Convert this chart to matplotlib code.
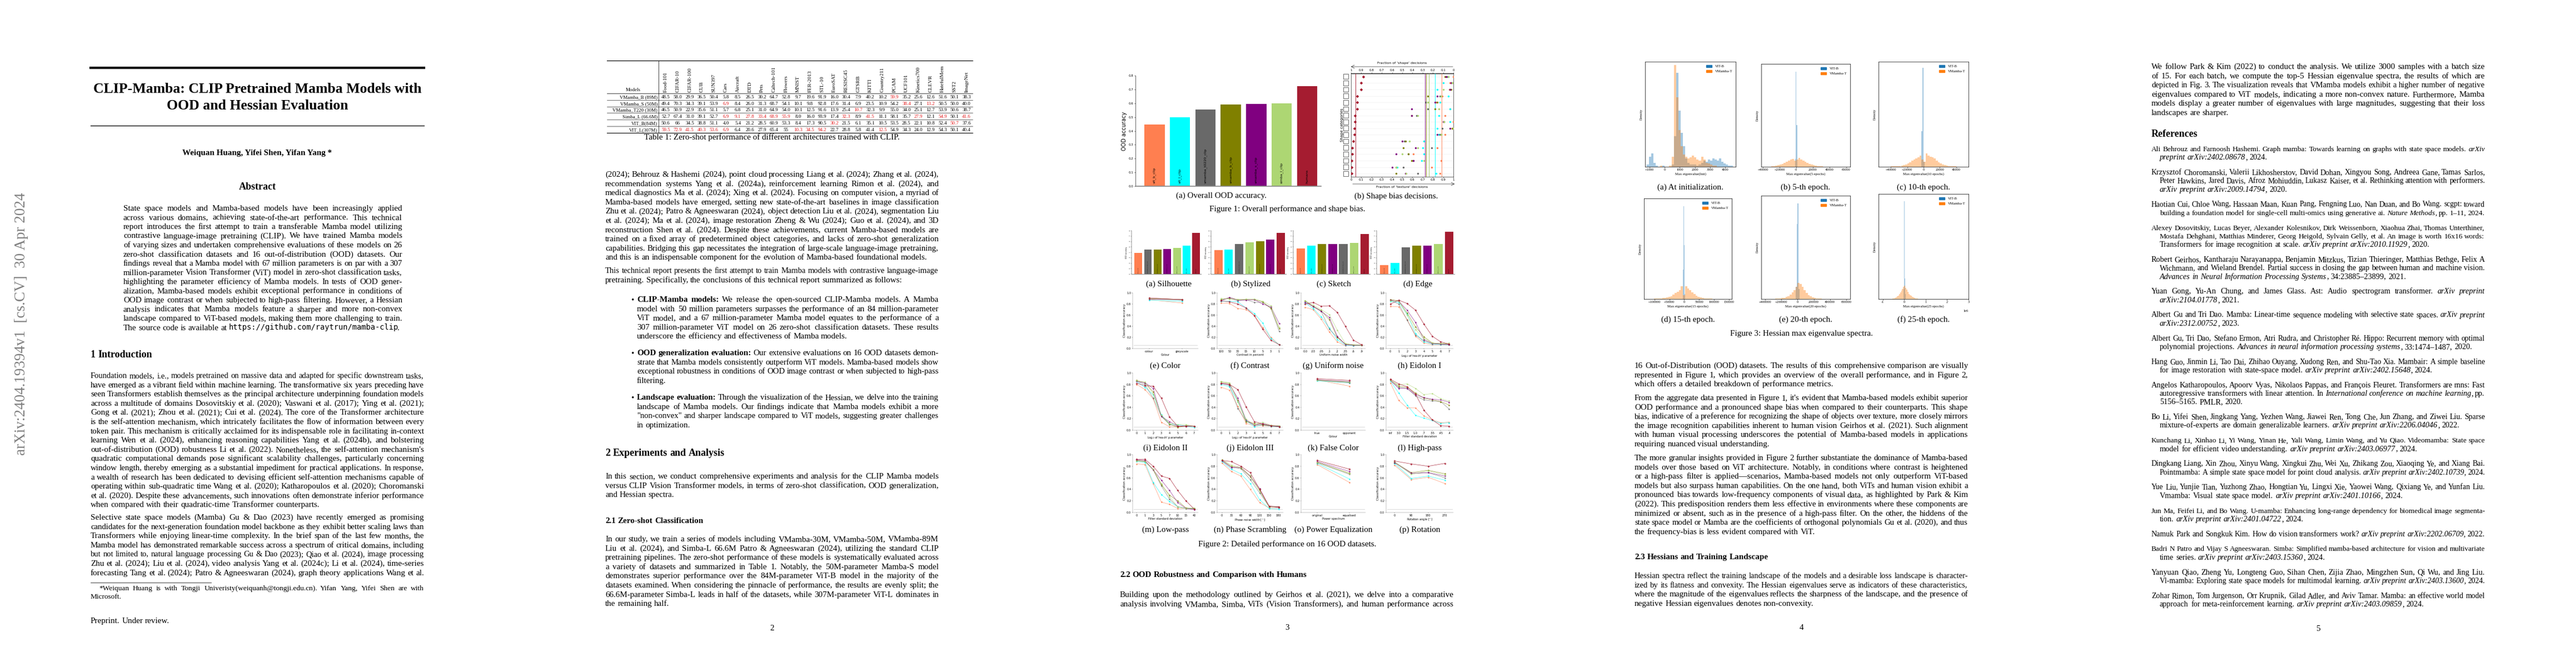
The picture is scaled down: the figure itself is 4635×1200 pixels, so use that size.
import numpy as np
import matplotlib
matplotlib.use("Agg")
import matplotlib.pyplot as plt
from matplotlib.font_manager import FontProperties
from matplotlib.textpath import text_to_path
from matplotlib.patches import Patch, Rectangle

W, H = 4635, 1200
SERIF = "Liberation Serif"
BODY = 10.9

# ---------------- data ----------------
MODELS = ["vit_b", "vit_l", "vmamba_t0220", "vmamba_b", "vmamba_s", "simba_l", "humans"]
COLORS = {"vit_b": "#FF7F50", "vit_l": "#00FFFF", "vmamba_t0220": "#696969",
          "vmamba_b": "#808000", "vmamba_s": "#800080", "simba_l": "#ADD673",
          "humans": "#A51C30"}
BAR_LABELS = {"vit_b": "vit_b_clip", "vit_l": "vit_l_clip", "vmamba_t0220": "vmamba_t0220_clip",
              "vmamba_b": "vmamba_b_clip", "vmamba_s": "vmamba_s_clip",
              "simba_l": "simba_l_clip", "humans": "humans"}

OOD_ACC = [0.445, 0.497, 0.556, 0.590, 0.594, 0.600, 0.724]

SHAPE_TEXTURE = {
    "vit_b": [1.0, .97, .96, .89, .83, .97, .92, 1.0, .99, .92, .71, .84, .61, .88, .79, .87],
    "vit_l": [.95, .90, .84, .95, .87, .97, .86, .97, .84, .86, .71, .70, .71, .69, .45, .83],
    "vmamba_t0220": [.94, .98, .97, .87, .73, .75, .64, .91, .89, .87, .52, .79, .56, .61, .51, .65],
    "vmamba_b": [.92, .99, .98, .75, .84, .82, .59, .91, .99, .88, .53, .51, .56, .59, .44, .44],
    "vmamba_s": [.93, .98, .97, .84, .82, .59, .59, .90, .97, .84, .50, .63, .44, .61, .40, .53],
    "simba_l": [.95, .99, .90, .88, .75, .86, .65, .91, 1.0, .88, .57, .65, .50, .71, .44, .54],
    "humans": [.12, .10, .10, .06, .06, .06, .04, .04, .03, .03, .02, .01, .01, .005, .005, .005],
}

BAR_PANELS = [
    ("(a) Silhouette", ["vit_b", "vmamba_t0220", "vmamba_b", "vmamba_s", "simba_l", "vit_l", "humans"],
     [0.391, 0.449, 0.456, 0.463, 0.483, 0.528, 0.756]),
    ("(b) Stylized", ["vit_b", "vit_l", "vmamba_t0220", "simba_l", "vmamba_b", "vmamba_s", "humans"],
     [0.443, 0.453, 0.551, 0.582, 0.603, 0.637, 0.756]),
    ("(c) Sketch", ["vit_b", "vit_l", "vmamba_b", "vmamba_s", "vmamba_t0220", "simba_l", "humans"],
     [0.470, 0.524, 0.551, 0.551, 0.551, 0.579, 0.735]),
    ("(d) Edge", ["vit_b", "vit_l", "vmamba_t0220", "vmamba_b", "vmamba_s", "simba_l", "humans"],
     [0.160, 0.204, 0.497, 0.521, 0.528, 0.555, 0.776]),
]

LINE_PANELS = [
    ("(e) Color", ["colour", "greyscale"], "Colour", {
        "vit_b": [.88, .82], "vit_l": [.87, .85], "vmamba_t0220": [.89, .87], "vmamba_b": [.90, .88],
        "vmamba_s": [.89, .88], "simba_l": [.90, .88], "humans": [.91, .88]}),
    ("(f) Contrast", ["100", "50", "30", "15", "10", "5", "3", "1"], "Contrast in percent", {
        "vit_b": [.82, .81, .72, .70, .60, .38, .20, .07],
        "vit_l": [.85, .85, .84, .73, .63, .46, .18, .07],
        "vmamba_t0220": [.88, .90, .86, .88, .83, .83, .73, .31],
        "vmamba_b": [.88, .91, .88, .88, .88, .84, .72, .36],
        "vmamba_s": [.86, .92, .87, .87, .88, .80, .75, .45],
        "simba_l": [.90, .89, .88, .89, .89, .85, .77, .38],
        "humans": [.86, .84, .80, .73, .59, .35, .15, .07]}),
    ("(g) Uniform noise", ["0.0", ".03", ".05", ".1", ".2", ".35", ".6", ".9"], "Uniform noise width", {
        "vit_b": [.74, .70, .53, .30, .12, .05, .06, .06],
        "vit_l": [.82, .72, .57, .37, .16, .06, .05, .06],
        "vmamba_t0220": [.85, .75, .67, .35, .20, .08, .06, .06],
        "vmamba_b": [.86, .76, .68, .52, .20, .08, .06, .06],
        "vmamba_s": [.83, .76, .67, .56, .22, .07, .06, .06],
        "simba_l": [.86, .78, .70, .61, .33, .09, .07, .06],
        "humans": [.80, .83, .76, .77, .65, .40, .15, .07]}),
    ("(h) Eidolon I", ["0", "1", "2", "3", "4", "5", "6", "7"], "Log$_2$ of 'reach' parameter", {
        "vit_b": [.76, .75, .52, .22, .10, .07, .07, .07],
        "vit_l": [.85, .83, .62, .27, .12, .08, .07, .07],
        "vmamba_t0220": [.87, .80, .51, .24, .14, .09, .08, .07],
        "vmamba_b": [.88, .86, .64, .39, .21, .10, .09, .08],
        "vmamba_s": [.87, .85, .69, .47, .16, .09, .08, .07],
        "simba_l": [.86, .85, .60, .34, .18, .10, .09, .10],
        "humans": [.80, .87, .81, .69, .44, .22, .12, .08]}),
    ("(i) Eidolon II", ["0", "1", "2", "3", "4", "5", "6", "7"], "Log$_2$ of 'reach' parameter", {
        "vit_b": [.80, .71, .55, .14, .06, .06, .07, .07],
        "vit_l": [.85, .75, .62, .27, .11, .10, .07, .05],
        "vmamba_t0220": [.86, .80, .56, .24, .10, .07, .08, .07],
        "vmamba_b": [.87, .83, .67, .25, .11, .05, .08, .07],
        "vmamba_s": [.85, .83, .73, .24, .15, .07, .07, .07],
        "simba_l": [.86, .84, .63, .26, .12, .10, .10, .07],
        "humans": [.82, .78, .77, .56, .23, .07, .07, .07]}),
    ("(j) Eidolon III", ["0", "1", "2", "3", "4", "5", "6", "7"], "Log$_2$ of 'reach' parameter", {
        "vit_b": [.75, .70, .42, .12, .08, .08, .07, .06],
        "vit_l": [.80, .76, .50, .17, .06, .10, .07, .06],
        "vmamba_t0220": [.82, .78, .38, .16, .09, .09, .07, .07],
        "vmamba_b": [.84, .82, .52, .15, .12, .10, .08, .07],
        "vmamba_s": [.82, .80, .56, .18, .09, .12, .08, .07],
        "simba_l": [.85, .83, .50, .19, .10, .14, .09, .08],
        "humans": [.82, .80, .71, .41, .15, .11, .08, .06]}),
    ("(k) False Color", ["true", "opponent"], "Colour", {
        "vit_b": [.88, .77], "vit_l": [.86, .83], "vmamba_t0220": [.87, .83], "vmamba_b": [.88, .84],
        "vmamba_s": [.88, .85], "simba_l": [.87, .84], "humans": [.90, .87]}),
    ("(l) High-pass", ["inf", "3.0", "1.5", "1.0", ".7", ".55", ".45", ".4"], "Filter standard deviation", {
        "vit_b": [.83, .52, .39, .39, .25, .18, .13, .14],
        "vit_l": [.86, .65, .44, .26, .21, .17, .12, .13],
        "vmamba_t0220": [.87, .75, .73, .60, .53, .51, .50, .37],
        "vmamba_b": [.88, .77, .75, .65, .56, .53, .50, .44],
        "vmamba_s": [.87, .73, .73, .62, .57, .54, .53, .49],
        "simba_l": [.87, .79, .81, .73, .62, .64, .55, .51],
        "humans": [.89, .81, .76, .63, .35, .18, .08, .07]}),
    ("(m) Low-pass", ["0", "1", "3", "5", "7", "10", "15", "40"], "Filter standard deviation", {
        "vit_b": [.84, .83, .50, .18, .14, .07, .07, .06],
        "vit_l": [.88, .87, .52, .31, .19, .10, .07, .07],
        "vmamba_t0220": [.89, .88, .74, .46, .23, .10, .07, .06],
        "vmamba_b": [.90, .89, .74, .48, .30, .20, .08, .07],
        "vmamba_s": [.91, .90, .74, .56, .38, .17, .07, .05],
        "simba_l": [.89, .88, .75, .50, .27, .10, .07, .08],
        "humans": [.92, .92, .80, .63, .59, .38, .20, .06]}),
    ("(n) Phase Scrambling", ["0", "30", "60", "90", "120", "150", "180"], "Phase noise width [$^\\circ$]", {
        "vit_b": [.86, .71, .63, .40, .17, .08, .08],
        "vit_l": [.88, .75, .67, .50, .22, .07, .06],
        "vmamba_t0220": [.89, .78, .76, .57, .34, .10, .09],
        "vmamba_b": [.91, .80, .77, .62, .38, .10, .10],
        "vmamba_s": [.90, .78, .78, .63, .41, .11, .09],
        "simba_l": [.91, .82, .78, .64, .37, .10, .10],
        "humans": [.90, .88, .80, .69, .40, .11, .10]}),
    ("(o) Power Equalization", ["original", "equalised"], "Power spectrum", {
        "vit_b": [.83, .52], "vit_l": [.85, .58], "vmamba_t0220": [.86, .66], "vmamba_b": [.87, .68],
        "vmamba_s": [.88, .71], "simba_l": [.87, .67], "humans": [.90, .75]}),
    ("(p) Rotation", ["0", "90", "180", "270"], "Rotation angle [$^\\circ$]", {
        "vit_b": [.82, .57, .61, .50], "vit_l": [.85, .59, .63, .56],
        "vmamba_t0220": [.86, .67, .69, .60], "vmamba_b": [.87, .69, .73, .67],
        "vmamba_s": [.87, .68, .69, .63], "simba_l": [.88, .66, .72, .65],
        "humans": [.89, .84, .80, .85]}),
]

TABLE_COLS = ["Food-101", "CIFAR-10", "CIFAR-100", "CUB", "SUN397", "Cars", "Aircraft", "DTD", "Pets",
              "Caltech-101", "Flowers", "MNIST", "FER-2013", "STL-10", "EuroSAT", "RESISC45", "GTSRB",
              "KITTI", "Country211", "PCAM", "UCF101", "Kinetics700", "CLEVR", "HatefulMem", "SST2",
              "ImageNet"]
TABLE_ROWS = ["VMamba_B (89M)", "VMamba_S (50M)", "VMamba_T220 (30M)", "Simba_L (66.6M)",
              "VIT_B(84M)", "VIT_L(307M)"]
TABLE_VALUES = [
    "48.5 58.0 29.9 36.5 50.4 5.8 8.5 26.5 30.2 64.7 52.8 9.7 19.6 91.9 16.0 30.4 7.9 40.2 10.2 59.9 35.2 25.6 12.6 51.6 50.1 38.3",
    "49.4 70.3 34.3 39.1 53.9 6.9 8.4 26.0 31.3 68.7 54.1 10.1 9.8 92.8 17.6 31.4 6.9 23.5 10.9 54.2 38.4 27.1 13.2 50.5 50.0 40.0",
    "46.5 50.9 22.9 35.6 51.1 5.7 6.8 25.1 31.0 64.9 54.0 10.1 12.5 91.6 13.9 25.4 10.7 32.3 9.9 55.0 34.0 25.1 12.7 53.9 50.6 38.7",
    "52.7 67.4 31.0 39.1 52.7 6.9 9.1 27.8 33.4 68.9 55.9 8.0 16.0 93.9 17.4 32.3 8.9 41.5 11.1 58.1 35.7 27.9 12.1 54.9 50.1 41.6",
    "50.6 66 34.5 38.8 51.1 4.0 5.4 21.2 28.5 60.9 53.3 8.4 17.3 90.5 30.2 21.5 6.1 35.1 10.5 53.5 28.5 22.1 10.8 52.4 50.7 37.6",
    "59.5 72.9 41.5 40.3 53.6 6.9 6.4 20.6 27.9 65.4 55 10.3 34.5 94.2 22.7 28.8 5.8 41.4 12.5 54.9 34.3 24.0 12.9 54.3 50.1 40.4",
]
TABLE_RED = {(0, 19), (1, 5), (1, 20), (1, 22), (2, 16), (3, 5), (3, 6), (3, 7), (3, 8), (3, 9),
             (3, 10), (3, 15), (3, 17), (3, 21), (3, 23), (3, 25), (4, 14), (4, 24),
             (5, 0), (5, 1), (5, 2), (5, 3), (5, 4), (5, 5), (5, 11), (5, 12), (5, 13), (5, 18)}

# Hessian histograms: (edges start, bin width, heights) per series
HIST_PANELS = [
    ("(a) At initialization.", "Max eigenvalue(Init)", (-1300, 4700), [-1000, 0, 1000, 2000, 3000, 4000],
     (-1200, 150, [0.02, 0.10, 0.13, 0.04, 0.01, 0, 0, 0.01, 0, 0, 0, 0.02, 0.30, 0.92, 0.55, 0.33, 0.20,
                   0.08, 0.04, 0.02, 0.02, 0.02, 0.01, 0.02, 0.04, 0.06, 0.05, 0.07, 0.06, 0.08, 0.07,
                   0.06, 0.08, 0.05, 0.03, 0.02, 0.01, 0.01]),
     (-1200, 150, [0, 0, 0, 0, 0, 0, 0.01, 0, 0, 0, 0.01, 0.10, 1.0, 0.68, 0.36, 0.20, 0.12, 0.10, 0.08,
                   0.09, 0.11, 0.09, 0.07, 0.06, 0.10, 0.07, 0.04, 0.03, 0.02, 0.01, 0.01, 0, 0, 0, 0,
                   0, 0, 0])),
    ("(b) 5-th epoch.", "Max eigenvalue(5 epochs)", (-42000, 65000), [-40000, -20000, 0, 20000, 40000, 60000],
     (-1200, 800, [0.08, 0.95, 0.42]),
     (-40000, 2500, [0, 0, 0, 0.002, 0.004, 0.006, 0.01, 0.015, 0.02, 0.03, 0.04, 0.05, 0.06, 0.07,
                     0.08, 0.06, 0.07, 0.09, 0.075, 0.06, 0.05, 0.04, 0.03, 0.02, 0.015, 0.01, 0.006,
                     0.004, 0.003, 0.002, 0.001, 0.001, 0.001, 0.001, 0.001, 0.001, 0, 0, 0, 0, 0, 0])),
    ("(c) 10-th epoch.", "Max eigenvalue(10 epochs)", (-55000, 55000), [-40000, -20000, 0, 20000, 40000],
     (-2400, 1200, [0.35, 0.97, 0.05]),
     (-50000, 2500, [0.001, 0.001, 0.002, 0.002, 0.003, 0.004, 0.005, 0.006, 0.008, 0.01, 0.015, 0.02,
                     0.03, 0.045, 0.06, 0.07, 0.08, 0.09, 0.11, 0.07, 0.05, 0.13, 0.11, 0.10, 0.09,
                     0.08, 0.06, 0.045, 0.03, 0.02, 0.015, 0.01, 0.008, 0.006, 0.004, 0.003, 0.002,
                     0.002, 0.001, 0.001])),
    ("(d) 15-th epoch.", "Max eigenvalue(15 epochs)", (-135000, 160000),
     [-100000, -50000, 0, 50000, 100000, 150000],
     (-4000, 2000, [0.3, 0.95, 0.55, 0.05]),
     (-130000, 7000, [0.001, 0.001, 0.002, 0.002, 0.003, 0.004, 0.005, 0.007, 0.009, 0.012, 0.016,
                      0.022, 0.03, 0.045, 0.06, 0.075, 0.09, 0.13, 0.04, 0.13, 0.11, 0.09, 0.07, 0.05,
                      0.035, 0.025, 0.018, 0.012, 0.008, 0.006, 0.004, 0.003, 0.002, 0.002, 0.001,
                      0.001, 0.001, 0.001, 0.001, 0.001])),
    ("(e) 20-th epoch.", "Max eigenvalue(20 epochs)", (-450000, 650000),
     [-400000, -200000, 0, 200000, 400000, 600000],
     (-24000, 12000, [0.12, 0.75, 0.95, 0.1]),
     (-400000, 25000, [0.001, 0.001, 0.001, 0.002, 0.002, 0.003, 0.004, 0.006, 0.009, 0.013, 0.02,
                       0.03, 0.045, 0.065, 0.09, 0.12, 0.16, 0.15, 0.12, 0.09, 0.06, 0.04, 0.025,
                       0.015, 0.01, 0.007, 0.005, 0.003, 0.002, 0.002, 0.001, 0.001, 0.001, 0.001,
                       0, 0, 0, 0, 0, 0])),
    ("(f) 25-th epoch.", "Max eigenvalue(25 epochs)", (-1.2e6, 3.0e6), [-1e6, 0, 1e6, 2e6, 3e6],
     (-40000, 25000, [0.1, 0.96, 0.2, 0.05]),
     (-600000, 50000, [0.002, 0.004, 0.006, 0.01, 0.015, 0.025, 0.035, 0.05, 0.065, 0.08, 0.1, 0.12,
                       0.13, 0.11, 0.09, 0.07, 0.05, 0.04, 0.03, 0.02, 0.014, 0.01, 0.007, 0.005,
                       0.003, 0.002])),
]

# ---------------- text helpers ----------------
fig = plt.figure(figsize=(W / 100, H / 100), dpi=100)
bg = fig.add_axes([0, 0, 1, 1])
bg.set_xlim(0, W)
bg.set_ylim(H, 0)
bg.axis("off")

_fp_cache = {}


def fprop(size, bold=False, ital=False, mono=False):
    key = (round(size, 3), bold, ital, mono)
    if key not in _fp_cache:
        _fp_cache[key] = FontProperties(family="DejaVu Sans Mono" if mono else SERIF,
                                        weight="bold" if bold else "normal",
                                        style="italic" if ital else "normal", size=size)
    return _fp_cache[key]


def width_px(s, fp):
    if not s:
        return 0.0
    w, _, _ = text_to_path.get_text_width_height_descent(s, fp, ismath=False)
    return w * 100 / 72


def parse(s):
    b = i = m = False
    words = []
    for w in s.split(" "):
        segs, buf = [], ""
        for ch in w:
            if ch in "^|`":
                if buf:
                    segs.append((buf, b, i, m))
                buf = ""
                if ch == "^":
                    b = not b
                elif ch == "|":
                    i = not i
                else:
                    m = not m
            else:
                buf += ch
        if buf:
            segs.append((buf, b, i, m))
        if segs:
            words.append(segs)
    return words


def tline(x0, x1, y, s, fs=BODY, justify=True):
    words = parse(s)

    def measure(size):
        return [sum(width_px(t, fprop(size * (0.9 if mo else 1), b, it, mo)) for t, b, it, mo in w)
                for w in words]

    ws = measure(fs)
    space = 0.25 * fs * 100 / 72
    natural = sum(ws) + space * (len(ws) - 1)
    size = fs
    if natural > (x1 - x0):
        size = fs * (x1 - x0) / natural
        ws = measure(size)
        space = 0.25 * size * 100 / 72
    gap = space
    if justify and len(ws) > 1:
        gap = (x1 - x0 - sum(ws)) / (len(ws) - 1)
    x = x0
    for w, wid in zip(words, ws):
        xx = x
        for t, b, it, mo in w:
            fp = fprop(size * (0.9 if mo else 1), b, it, mo)
            bg.text(xx, y + 4, t, fontproperties=fp, va="baseline", ha="left")
            xx += width_px(t, fp)
        x += wid + gap


def para(x0, x1, y0, lines, step=16.6, fs=BODY, last_just=False):
    for k, s in enumerate(lines):
        last = k == len(lines) - 1
        tline(x0, x1, y0 + k * step, s, fs, justify=(not last) or last_just)


def ctext(x, y, s, fs=BODY, bold=False, **kw):
    bg.text(x, y + 4, s, fontproperties=fprop(fs, bold), va="baseline", ha="center", **kw)


def px_axes(x0, y0, x1, y1):
    return fig.add_axes([x0 / W, 1 - y1 / H, (x1 - x0) / W, (y1 - y0) / H])


# ---------------- page 1 ----------------
L1, R1 = 163, 763
bg.plot([L1, R1], [122, 122], color="black", lw=3.0)
bg.plot([L1, R1], [226, 226], color="black", lw=0.9)
ctext(463, 163, "CLIP-Mamba: CLIP Pretrained Mamba Models with", 18.5, True)
ctext(463, 193, "OOD and Hessian Evaluation", 18.5, True)
ctext(463, 275, "Weiquan Huang, Yifei Shen, Yifan Yang *", BODY, True)
ctext(463, 337, "Abstract", 13, True)
para(222, 724, 375, [
    "State space models and Mamba-based models have been increasingly applied",
    "across various domains, achieving state-of-the-art performance. This technical",
    "report introduces the first attempt to train a transferable Mamba model utilizing",
    "contrastive language-image pretraining (CLIP). We have trained Mamba models",
    "of varying sizes and undertaken comprehensive evaluations of these models on 26",
    "zero-shot classification datasets and 16 out-of-distribution (OOD) datasets. Our",
    "findings reveal that a Mamba model with 67 million parameters is on par with a 307",
    "million-parameter Vision Transformer (ViT) model in zero-shot classification tasks,",
    "highlighting the parameter efficiency of Mamba models. In tests of OOD gener-",
    "alization, Mamba-based models exhibit exceptional performance in conditions of",
    "OOD image contrast or when subjected to high-pass filtering. However, a Hessian",
    "analysis indicates that Mamba models feature a sharper and more non-convex",
    "landscape compared to ViT-based models, making them more challenging to train.",
    "The source code is available at `https://github.com/raytrun/mamba-clip`.",
], step=16.5)
tline(L1, R1, 639, "^1    Introduction^", 13, justify=False)
para(L1, R1, 676, [
    "Foundation models, i.e., models pretrained on massive data and adapted for specific downstream tasks,",
    "have emerged as a vibrant field within machine learning. The transformative six years preceding have",
    "seen Transformers establish themselves as the principal architecture underpinning foundation models",
    "across a multitude of domains Dosovitskiy et al. (2020); Vaswani et al. (2017); Ying et al. (2021);",
    "Gong et al. (2021); Zhou et al. (2021); Cui et al. (2024). The core of the Transformer architecture",
    "is the self-attention mechanism, which intricately facilitates the flow of information between every",
    "token pair. This mechanism is critically acclaimed for its indispensable role in facilitating in-context",
    "learning Wen et al. (2024), enhancing reasoning capabilities Yang et al. (2024b), and bolstering",
    "out-of-distribution (OOD) robustness Li et al. (2022). Nonetheless, the self-attention mechanism's",
    "quadratic computational demands pose significant scalability challenges, particularly concerning",
    "window length, thereby emerging as a substantial impediment for practical applications. In response,",
    "a wealth of research has been dedicated to devising efficient self-attention mechanisms capable of",
    "operating within sub-quadratic time Wang et al. (2020); Katharopoulos et al. (2020); Choromanski",
    "et al. (2020). Despite these advancements, such innovations often demonstrate inferior performance",
    "when compared with their quadratic-time Transformer counterparts.",
])
para(L1, R1, 931, [
    "Selective state space models (Mamba) Gu & Dao (2023) have recently emerged as promising",
    "candidates for the next-generation foundation model backbone as they exhibit better scaling laws than",
    "Transformers while enjoying linear-time complexity. In the brief span of the last few months, the",
    "Mamba model has demonstrated remarkable success across a spectrum of critical domains, including",
    "but not limited to, natural language processing Gu & Dao (2023); Qiao et al. (2024), image processing",
    "Zhu et al. (2024); Liu et al. (2024), video analysis Yang et al. (2024c); Li et al. (2024), time-series",
    "forecasting Tang et al. (2024); Patro & Agneeswaran (2024), graph theory applications Wang et al.",
], last_just=True)
bg.plot([L1, 380], [1048, 1048], color="black", lw=0.5)
tline(L1 + 15, R1, 1058, "*Weiquan Huang is with Tongji Univeristy(weiquanh@tongji.edu.cn). Yifan Yang, Yifei Shen are with", 9.6)
tline(L1, R1, 1073, "Microsoft.", 9.6, justify=False)
tline(L1, R1, 1117, "Preprint. Under review.", BODY, justify=False)
bg.text(39, 583, "arXiv:2404.19394v1  [cs.CV]  30 Apr 2024", rotation=90, ha="center", va="center",
        fontproperties=fprop(19.5), color="#808080")

# ---------------- page 2 ----------------
L2, R2 = 1089, 1689
# table
tx0, tcol0, tcol1 = 1092, 1187, 1750
ncol = len(TABLE_COLS)
cw = (tcol1 - tcol0) / ncol
ry = [174, 186, 197, 209, 221, 233]
bg.plot([tx0, tcol1], [109, 109], color="black", lw=0.8)
bg.plot([tx0, tcol1], [168, 168], color="black", lw=0.5)
for k in range(len(TABLE_ROWS)):
    bg.plot([tx0, tcol1], [ry[k] + 6, ry[k] + 6], color="black", lw=0.8 if k == len(TABLE_ROWS) - 1 else 0.4)
bg.plot([tcol0 - 2, tcol0 - 2], [109, 239], color="black", lw=0.5)
bg.text((tx0 + tcol0) / 2, 166, "Models", ha="center", va="bottom", fontproperties=fprop(6.5))
for j, c in enumerate(TABLE_COLS):
    bg.text(tcol0 + cw * (j + 0.5), 166, c, rotation=90, ha="center", va="bottom",
            fontproperties=fprop(6.8))
for k, (name, vals) in enumerate(zip(TABLE_ROWS, TABLE_VALUES)):
    bg.text(tcol0 - 4, ry[k] + 3, name, ha="right", va="baseline", fontproperties=fprop(6.3))
    for j, v in enumerate(vals.split()):
        bg.text(tcol0 + cw * (j + 0.5), ry[k] + 3, v, ha="center", va="baseline",
                fontproperties=fprop(6.5), color="#e31a1c" if (k, j) in TABLE_RED else "black")
ctext(1389, 247, "Table 1: Zero-shot performance of different architectures trained with CLIP.")

para(L2, R2, 314, [
    "(2024); Behrouz & Hashemi (2024), point cloud processing Liang et al. (2024); Zhang et al. (2024),",
    "recommendation systems Yang et al. (2024a), reinforcement learning Rimon et al. (2024), and",
    "medical diagnostics Ma et al. (2024); Xing et al. (2024). Focusing on computer vision, a myriad of",
    "Mamba-based models have emerged, setting new state-of-the-art baselines in image classification",
    "Zhu et al. (2024); Patro & Agneeswaran (2024), object detection Liu et al. (2024), segmentation Liu",
    "et al. (2024); Ma et al. (2024), image restoration Zheng & Wu (2024); Guo et al. (2024), and 3D",
    "reconstruction Shen et al. (2024). Despite these achievements, current Mamba-based models are",
    "trained on a fixed array of predetermined object categories, and lacks of zero-shot generalization",
    "capabilities. Bridging this gap necessitates the integration of large-scale language-image pretraining,",
    "and this is an indispensable component for the evolution of Mamba-based foundational models.",
])
para(L2, R2, 487, [
    "This technical report presents the first attempt to train Mamba models with contrastive language-image",
    "pretraining. Specifically, the conclusions of this technical report summarized as follows:",
])
BL = 1146
for y0, lines in [
    (539, ["^CLIP-Mamba models:^ We release the open-sourced CLIP-Mamba models. A Mamba",
           "model with 50 million parameters surpasses the performance of an 84 million-parameter",
           "ViT model, and a 67 million-parameter Mamba model equates to the performance of a",
           "307 million-parameter ViT model on 26 zero-shot classification datasets. These results",
           "underscore the efficiency and effectiveness of Mamba models."]),
    (635, ["^OOD generalization evaluation:^ Our extensive evaluations on 16 OOD datasets demon-",
           "strate that Mamba models consistently outperform ViT models. Mamba-based models show",
           "exceptional robustness in conditions of OOD image contrast or when subjected to high-pass",
           "filtering."]),
    (715, ["^Landscape evaluation:^ Through the visualization of the Hessian, we delve into the training",
           "landscape of Mamba models. Our findings indicate that Mamba models exhibit a more",
           "\"non-convex\" and sharper landscape compared to ViT models, suggesting greater challenges",
           "in optimization."]),
]:
    bg.text(1135, y0 + 4, "\u2022", fontproperties=fprop(BODY), va="baseline", ha="left")
    para(BL, R2, y0, lines)
tline(L2, R2, 816, "^2    Experiments and Analysis^", 13, justify=False)
para(L2, R2, 857, [
    "In this section, we conduct comprehensive experiments and analysis for the CLIP Mamba models",
    "versus CLIP Vision Transformer models, in terms of zero-shot classification, OOD generalization,",
    "and Hessian spectra.",
])
tline(L2, R2, 937, "^2.1    Zero-shot Classification^", BODY, justify=False)
para(L2, R2, 970, [
    "In our study, we train a series of models including VMamba-30M, VMamba-50M, VMamba-89M",
    "Liu et al. (2024), and Simba-L 66.6M Patro & Agneeswaran (2024), utilizing the standard CLIP",
    "pretraining pipelines. The zero-shot performance of these models is systematically evaluated across",
    "a variety of datasets and summarized in Table 1. Notably, the 50M-parameter Mamba-S model",
    "demonstrates superior performance over the 84M-parameter ViT-B model in the majority of the",
    "datasets examined. When considering the pinnacle of performance, the results are evenly split; the",
    "66.6M-parameter Simba-L leads in half of the datasets, while 307M-parameter ViT-L dominates in",
    "the remaining half.",
])
ctext(1389, 1130, "2")

# ---------------- page 3 ----------------
L3, R3 = 2015, 2615
# Fig 1a
ax = px_axes(2043, 136, 2377, 335)
xs = np.arange(len(MODELS))
ax.bar(xs, OOD_ACC, width=0.8, color=[COLORS[m] for m in MODELS])
for x, m in zip(xs, MODELS):
    ax.text(x, 0.02, BAR_LABELS[m], rotation=90, ha="center", va="bottom", fontsize=4.5)
ax.set_ylim(0, 0.8)
ax.set_xlim(-0.75, 6.55)
ax.set_xticks([])
ax.set_yticks(np.arange(0, 0.81, 0.1))
ax.set_yticklabels([f"{v:.1f}" for v in np.arange(0, 0.81, 0.1)], fontsize=4)
ax.tick_params(length=1.5, width=0.4, pad=1)
ax.set_ylabel("OOD accuracy", fontsize=7, labelpad=2)
for s in ("top", "right"):
    ax.spines[s].set_visible(False)
ax.spines["left"].set_linewidth(0.4)
ax.spines["bottom"].set_color("#888888")
ax.spines["bottom"].set_linewidth(1.2)
ctext(2197, 352, "(a) Overall OOD accuracy.")

# Fig 1b
ax = px_axes(2431, 132, 2615, 318)
nrow = 16
rows = np.arange(nrow)
for r in rows:
    ax.axhline(r, color="#eeeeee", lw=0.4, zorder=0)
for m in MODELS:
    ax.axvline(np.mean(SHAPE_TEXTURE[m]), color=COLORS[m], lw=0.6, zorder=1)
for m in MODELS:
    ax.scatter(SHAPE_TEXTURE[m], rows, s=6 if m != "humans" else 8, color=COLORS[m],
               marker="D" if m == "humans" else "o", zorder=3, linewidths=0)
ax.set_xlim(0, 1)
ax.set_ylim(nrow - 0.5, -0.5)
ax.set_yticks([])
ticks = np.arange(0, 1.01, 0.1)
ax.set_xticks(ticks)
ax.set_xticklabels(["0"] + [f"{t:.1f}" for t in ticks[1:-1]] + ["1"], fontsize=4)
ax.tick_params(length=1.5, width=0.4, pad=1)
sec = ax.secondary_xaxis("top", functions=(lambda v: 1 - v, lambda v: 1 - v))
sec.set_xticks(ticks)
sec.set_xticklabels(["0"] + [f"{t:.1f}" for t in ticks[1:-1]] + ["1"], fontsize=4)
sec.tick_params(length=1.5, width=0.4, pad=1)
for s in ax.spines.values():
    s.set_linewidth(0.4)
ax.set_ylabel("Shape categories", fontsize=5, labelpad=9)
for r in rows:
    ax.add_patch(Rectangle((-0.075, r - 0.38), 0.05, 0.76, transform=ax.get_yaxis_transform(),
                           fill=False, lw=0.4, clip_on=False))
bg.text(2523, 114, "Fraction of 'shape' decisions", ha="center", va="center", fontsize=4.5)
bg.annotate("", xy=(2428, 120), xytext=(2617, 120), arrowprops=dict(arrowstyle="->", lw=0.4))
bg.text(2523, 337, "Fraction of 'texture' decisions", ha="center", va="center", fontsize=4.5)
bg.annotate("", xy=(2620, 331), xytext=(2431, 331), arrowprops=dict(arrowstyle="->", lw=0.4))
ctext(2512, 353, "(b) Shape bias decisions.")
ctext(2316, 376, "Figure 1: Overall performance and shape bias.")

# Fig 2
col_x = [(2036, 2161), (2179, 2314), (2327, 2465), (2477, 2617)]
for (cap, order, vals), (x0, x1) in zip(BAR_PANELS, col_x):
    ax = px_axes(x0, 415, x1, 493)
    xs = np.arange(len(order))
    ax.bar(xs, vals, width=0.8, color=[COLORS[m] for m in order])
    for x, m in zip(xs, order):
        ax.text(x, 0.02, BAR_LABELS[m], rotation=90, ha="center", va="bottom", fontsize=1.6)
    ax.set_ylim(0, 0.8)
    ax.set_xlim(-0.7, 6.5)
    ax.set_xticks([])
    ax.set_yticks(np.arange(0, 0.81, 0.1))
    ax.set_yticklabels([f"{v:.1f}" for v in np.arange(0, 0.81, 0.1)], fontsize=1.6)
    ax.tick_params(length=1, width=0.3, pad=0.5)
    ax.set_ylabel("OOD accuracy", fontsize=2.2, labelpad=1)
    for s in ("top", "right"):
        ax.spines[s].set_visible(False)
    ax.spines["left"].set_linewidth(0.3)
    ax.spines["bottom"].set_color("#999999")
    ax.spines["bottom"].set_linewidth(0.8)
    ctext((x0 + x1) / 2 + 4, 511, cap)

line_x = [(2038, 2156), (2190, 2309), (2341, 2457), (2494, 2615)]
row_y = [(527, 627, 658), (671, 774, 806), (818, 922, 953)]
for idx, (cap, xt, xl, series) in enumerate(LINE_PANELS):
    (x0, x1), (y0, y1, yc) = line_x[idx % 4], row_y[idx // 4]
    ax = px_axes(x0, y0, x1, y1)
    xs = np.arange(len(xt))
    ax.axhline(0.0625, color="#dddddd", lw=0.8, zorder=0, xmin=0.02, xmax=0.98)
    for m in MODELS:
        hum = m == "humans"
        ax.plot(xs, series[m], color=COLORS[m], lw=0.5, alpha=0.75 if not hum else 0.9,
                marker="P" if hum else "o", ms=2.6 if hum else 2.0, mew=0, zorder=3 if hum else 2)
    ax.set_ylim(0, 1.0)
    ax.set_xlim(-0.5, len(xt) - 0.5)
    ax.set_xticks(xs)
    ax.set_xticklabels(xt, fontsize=3.6)
    ax.set_yticks(np.arange(0, 1.01, 0.2))
    ax.set_yticklabels([f"{v:.1f}" for v in np.arange(0, 1.01, 0.2)], fontsize=3.6)
    ax.tick_params(length=1, width=0.3, pad=1)
    ax.set_xlabel(xl, fontsize=3.6, labelpad=1)
    ax.set_ylabel("Classification accuracy", fontsize=3.8, labelpad=1)
    for s in ("top", "right"):
        ax.spines[s].set_visible(False)
    for s in ("left", "bottom"):
        ax.spines[s].set_linewidth(0.3)
        ax.spines[s].set_color("#777777")
    ctext((x0 + x1) / 2, yc, cap)
ctext(2316, 979, "Figure 2: Detailed performance on 16 OOD datasets.")
tline(L3, R3, 1034, "^2.2    OOD Robustness and Comparison with Humans^", BODY, justify=False)
para(L3, R3, 1070, [
    "Building upon the methodology outlined by Geirhos et al. (2021), we delve into a comparative",
    "analysis involving VMamba, Simba, ViTs (Vision Transformers), and human performance across",
], step=17, last_just=True)
ctext(2316, 1129, "3")

# ---------------- page 4 ----------------
L4, R4 = 2941, 3541
hist_boxes = [(2960, 111, 3123, 300), (3169, 115, 3329, 300), (3380, 111, 3542, 300),
              (2958, 357, 3116, 538), (3169, 352, 3329, 538), (3380, 349, 3542, 538)]
for (cap, xl, xlim, xt, blue, orange), (x0, y0, x1, y1) in zip(HIST_PANELS, hist_boxes):
    ax = px_axes(x0, y0, x1, y1)
    for (start, step, hts), col in [(blue, "tab:blue"), (orange, "tab:orange")]:
        lefts = start + step * np.arange(len(hts))
        ax.bar(lefts, hts, width=step, align="edge", color=col, alpha=0.4, linewidth=0)
    ax.set_xlim(*xlim)
    ax.set_ylim(0, 1.03)
    ax.set_yticks([])
    ax.set_xticks(xt)
    if xlim[1] > 1e6:
        ax.set_xticklabels([f"{v / 1e6:.0f}" for v in xt], fontsize=4.6, family=SERIF)
        ax.text(1.0, -0.1, "1e6", transform=ax.transAxes, ha="right", va="top", fontsize=4.6, family=SERIF)
    else:
        ax.set_xticklabels([f"{v:.0f}".replace("-", "\u2212") for v in xt], fontsize=4.6, family=SERIF)
    ax.tick_params(length=1.5, width=0.4, pad=1)
    ax.set_xlabel(xl, fontsize=4.8, family=SERIF, labelpad=1.5)
    ax.set_ylabel("Density", fontsize=4.8, family=SERIF, labelpad=3)
    for s in ax.spines.values():
        s.set_linewidth(0.5)
    ax.legend(handles=[Patch(color="tab:blue", label="VIT-B"), Patch(color="tab:orange", label="VMamba-T")],
              loc="upper right", frameon=False, prop=fprop(4.8), handlelength=1.6, handleheight=0.6)
    ctext((x0 + x1) / 2, y1 + 37, cap)
ctext(3241, 600, "Figure 3: Hessian max eigenvalue spectra.")
para(L4, R4, 658, [
    "16 Out-of-Distribution (OOD) datasets. The results of this comprehensive comparison are visually",
    "represented in Figure 1, which provides an overview of the overall performance, and in Figure 2,",
    "which offers a detailed breakdown of performance metrics.",
])
para(L4, R4, 716, [
    "From the aggregate data presented in Figure 1, it's evident that Mamba-based models exhibit superior",
    "OOD performance and a pronounced shape bias when compared to their counterparts. This shape",
    "bias, indicative of a preference for recognizing the shape of objects over texture, more closely mirrors",
    "the image recognition capabilities inherent to human vision Geirhos et al. (2021). Such alignment",
    "with human visual processing underscores the potential of Mamba-based models in applications",
    "requiring nuanced visual understanding.",
])
para(L4, R4, 824, [
    "The more granular insights provided in Figure 2 further substantiate the dominance of Mamba-based",
    "models over those based on ViT architecture. Notably, in conditions where contrast is heightened",
    "or a high-pass filter is applied\u2014scenarios, Mamba-based models not only outperform ViT-based",
    "models but also surpass human capabilities. On the one hand, both ViTs and human vision exhibit a",
    "pronounced bias towards low-frequency components of visual data, as highlighted by Park & Kim",
    "(2022). This predisposition renders them less effective in environments where these components are",
    "minimized or absent, such as in the presence of a high-pass filter. On the other, the hiddens of the",
    "state space model or Mamba are the coefficients of orthogonal polynomials Gu et al. (2020), and thus",
    "the frequency-bias is less evident compared with ViT.",
])
tline(L4, R4, 1002, "^2.3    Hessians and Training Landscape^", BODY, justify=False)
para(L4, R4, 1036, [
    "Hessian spectra reflect the training landscape of the models and a desirable loss landscape is character-",
    "ized by its flatness and convexity. The Hessian eigenvalues serve as indicators of these characteristics,",
    "where the magnitude of the eigenvalues reflects the sharpness of the landscape, and the presence of",
    "negative Hessian eigenvalues denotes non-convexity.",
])
ctext(3241, 1129, "4")

# ---------------- page 5 ----------------
L5, R5 = 3871, 4471
para(L5, R5, 120, [
    "We follow Park & Kim (2022) to conduct the analysis. We utilize 3000 samples with a batch size",
    "of 15. For each batch, we compute the top-5 Hessian eigenvalue spectra, the results of which are",
    "depicted in Fig. 3. The visualization reveals that VMamba models exhibit a higher number of negative",
    "eigenvalues compared to ViT models, indicating a more non-convex nature. Furthermore, Mamba",
    "models display a greater number of eigenvalues with large magnitudes, suggesting that their loss",
    "landscapes are sharper.",
])
tline(L5, R5, 242, "^References^", 13, justify=False)
REFS = [
    ["Ali Behrouz and Farnoosh Hashemi. Graph mamba: Towards learning on graphs with state space models. |arXiv",
     "preprint arXiv:2402.08678|, 2024."],
    ["Krzysztof Choromanski, Valerii Likhosherstov, David Dohan, Xingyou Song, Andreea Gane, Tamas Sarlos,",
     "Peter Hawkins, Jared Davis, Afroz Mohiuddin, Lukasz Kaiser, et al. Rethinking attention with performers.",
     "|arXiv preprint arXiv:2009.14794|, 2020."],
    ["Haotian Cui, Chloe Wang, Hassaan Maan, Kuan Pang, Fengning Luo, Nan Duan, and Bo Wang. scgpt: toward",
     "building a foundation model for single-cell multi-omics using generative ai. |Nature Methods|, pp. 1\u201311, 2024."],
    ["Alexey Dosovitskiy, Lucas Beyer, Alexander Kolesnikov, Dirk Weissenborn, Xiaohua Zhai, Thomas Unterthiner,",
     "Mostafa Dehghani, Matthias Minderer, Georg Heigold, Sylvain Gelly, et al. An image is worth 16x16 words:",
     "Transformers for image recognition at scale. |arXiv preprint arXiv:2010.11929|, 2020."],
    ["Robert Geirhos, Kantharaju Narayanappa, Benjamin Mitzkus, Tizian Thieringer, Matthias Bethge, Felix A",
     "Wichmann, and Wieland Brendel. Partial success in closing the gap between human and machine vision.",
     "|Advances in Neural Information Processing Systems|, 34:23885\u201323899, 2021."],
    ["Yuan Gong, Yu-An Chung, and James Glass. Ast: Audio spectrogram transformer. |arXiv preprint",
     "arXiv:2104.01778|, 2021."],
    ["Albert Gu and Tri Dao. Mamba: Linear-time sequence modeling with selective state spaces. |arXiv preprint",
     "arXiv:2312.00752|, 2023."],
    ["Albert Gu, Tri Dao, Stefano Ermon, Atri Rudra, and Christopher R\u00e9. Hippo: Recurrent memory with optimal",
     "polynomial projections. |Advances in neural information processing systems|, 33:1474\u20131487, 2020."],
    ["Hang Guo, Jinmin Li, Tao Dai, Zhihao Ouyang, Xudong Ren, and Shu-Tao Xia. Mambair: A simple baseline",
     "for image restoration with state-space model. |arXiv preprint arXiv:2402.15648|, 2024."],
    ["Angelos Katharopoulos, Apoorv Vyas, Nikolaos Pappas, and Fran\u00e7ois Fleuret. Transformers are rnns: Fast",
     "autoregressive transformers with linear attention. In |International conference on machine learning|, pp.",
     "5156\u20135165. PMLR, 2020."],
    ["Bo Li, Yifei Shen, Jingkang Yang, Yezhen Wang, Jiawei Ren, Tong Che, Jun Zhang, and Ziwei Liu. Sparse",
     "mixture-of-experts are domain generalizable learners. |arXiv preprint arXiv:2206.04046|, 2022."],
    ["Kunchang Li, Xinhao Li, Yi Wang, Yinan He, Yali Wang, Limin Wang, and Yu Qiao. Videomamba: State space",
     "model for efficient video understanding. |arXiv preprint arXiv:2403.06977|, 2024."],
    ["Dingkang Liang, Xin Zhou, Xinyu Wang, Xingkui Zhu, Wei Xu, Zhikang Zou, Xiaoqing Ye, and Xiang Bai.",
     "Pointmamba: A simple state space model for point cloud analysis. |arXiv preprint arXiv:2402.10739|, 2024."],
    ["Yue Liu, Yunjie Tian, Yuzhong Zhao, Hongtian Yu, Lingxi Xie, Yaowei Wang, Qixiang Ye, and Yunfan Liu.",
     "Vmamba: Visual state space model. |arXiv preprint arXiv:2401.10166|, 2024."],
    ["Jun Ma, Feifei Li, and Bo Wang. U-mamba: Enhancing long-range dependency for biomedical image segmenta-",
     "tion. |arXiv preprint arXiv:2401.04722|, 2024."],
    ["Namuk Park and Songkuk Kim. How do vision transformers work? |arXiv preprint arXiv:2202.06709|, 2022."],
    ["Badri N Patro and Vijay S Agneeswaran. Simba: Simplified mamba-based architecture for vision and multivariate",
     "time series. |arXiv preprint arXiv:2403.15360|, 2024."],
    ["Yanyuan Qiao, Zheng Yu, Longteng Guo, Sihan Chen, Zijia Zhao, Mingzhen Sun, Qi Wu, and Jing Liu.",
     "Vl-mamba: Exploring state space models for multimodal learning. |arXiv preprint arXiv:2403.13600|, 2024."],
    ["Zohar Rimon, Tom Jurgenson, Orr Krupnik, Gilad Adler, and Aviv Tamar. Mamba: an effective world model",
     "approach for meta-reinforcement learning. |arXiv preprint arXiv:2403.09859|, 2024."],
]
y = 268
for k, ref in enumerate(REFS):
    ital = False
    for j, s in enumerate(ref):
        # carry italic state across lines
        s2 = ("|" if ital else "") + s
        ital = (s2.count("|") % 2 == 1)
        tline(L5 + (15 if j else 0), R5, y, s2, 10.3, justify=(j < len(ref) - 1))
        if j < len(ref) - 1:
            y += 15.3
    y += 26.8
ctext(4171, 1131, "5")

fig.savefig("out.png", dpi=100, facecolor="white")
